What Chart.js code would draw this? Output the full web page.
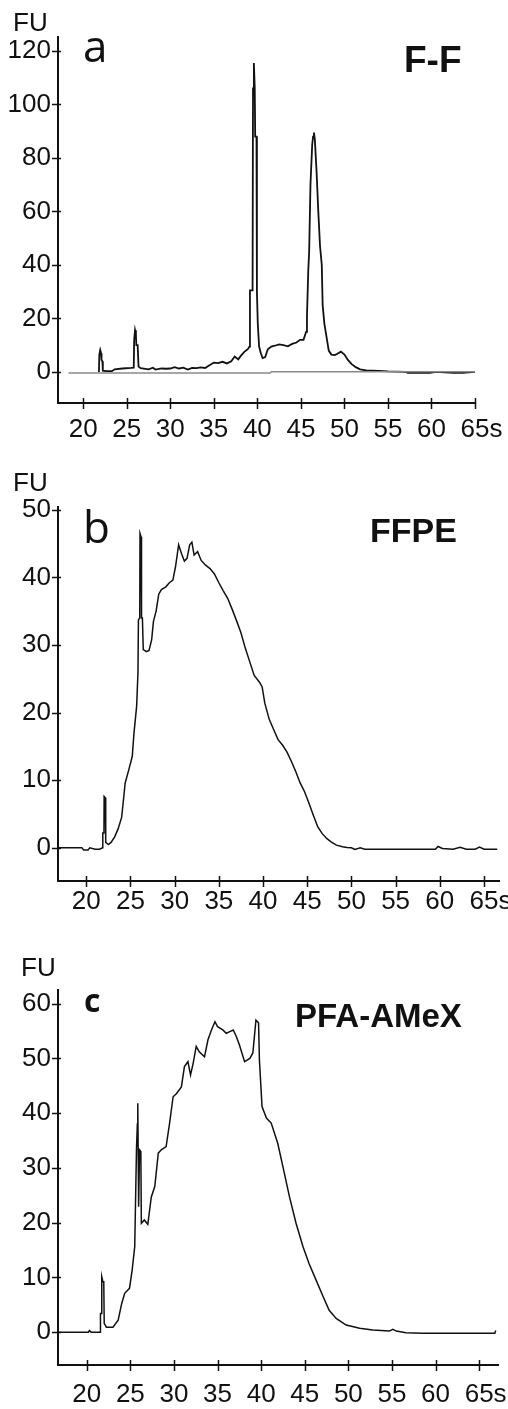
<!DOCTYPE html>
<html>
<head>
<meta charset="utf-8">
<script src="https://cdn.jsdelivr.net/npm/chart.js@4.4.1/dist/chart.umd.min.js"></script>
<style>
    body { margin: 0; background: #fff; }
    #page { position: relative; width: 508px; height: 1409px; overflow: hidden; background: #fff; }
    canvas { position: absolute; left: 0; }
    .label { position: absolute; line-height: 1; color: #111; white-space: nowrap; }
    .fu { font: 26px "Liberation Sans", Arial, sans-serif; }
    .letter { font-family: "Open Sans", sans-serif; font-size: 44px; }
    .title { font-family: "Liberation Sans", Arial, sans-serif; font-weight: bold; }
</style>
</head>
<body>
<div id="page">
    <canvas id="chartA" width="508" height="453" style="top:0px"></canvas>
    <canvas id="chartB" width="508" height="471" style="top:460px"></canvas>
    <canvas id="chartC" width="508" height="459" style="top:950px"></canvas>

    <div class="label fu" style="left:13px;top:7px">FU</div>
    <div class="label letter" style="left:83px;top:23px">a</div>
    <div class="label title" style="left:404px;top:41px;font-size:37px">F-F</div>

    <div class="label fu" style="left:13px;top:467px">FU</div>
    <div class="label letter" style="left:83px;top:504px">b</div>
    <div class="label title" style="left:370px;top:513px;font-size:34px">FFPE</div>

    <div class="label fu" style="left:21px;top:952px">FU</div>
    <div class="label letter" style="left:84px;top:984px;font-size:32px;font-weight:bold">c</div>
    <div class="label title" style="left:295px;top:999px;font-size:33px">PFA-AMeX</div>
</div>
<script>
(() => {
    // migration time (s) tick labels, shared by all three panels
    const xTicks = [20, 25, 30, 35, 40, 45, 50, 55, 60, 65];
    const aTicksY = [0, 20, 40, 60, 80, 100, 120];
    const bTicksY = [0, 10, 20, 30, 40, 50];
    const cTicksY = [0, 10, 20, 30, 40, 50, 60];

    // a: F-F
    const aTime = [21.8, 21.85, 21.95, 22.05, 22.1, 22.2, 22.25, 22.6, 23.3, 23.6, 24.5, 25.5, 25.8, 25.85, 25.95, 26.05, 26.1, 26.25, 26.35, 26.6,
        27.5, 28.0, 28.3, 29.0, 29.5, 30.0, 30.5, 31.0, 31.5, 32.0, 32.5, 33.0, 33.5, 34.0, 34.5, 35.0, 35.5, 36.0, 36.5, 37.0,
        37.4, 37.8, 38.1, 38.5, 38.9, 39.1, 39.15, 39.45, 39.5, 39.6, 39.7, 39.75, 39.9, 39.95, 40.05, 40.2, 40.4, 40.6, 40.9, 41.2,
        41.6, 42.0, 42.5, 43.0, 43.5, 44.0, 44.5, 44.9, 45.3, 45.6, 45.7, 45.85, 45.95, 46.1, 46.3, 46.4, 46.5, 46.6, 46.8, 47.0,
        47.2, 47.4, 47.5, 47.7, 48.0, 48.2, 48.5, 48.9, 49.2, 49.6, 50.0, 50.4, 50.8, 51.3, 51.8, 52.5, 54.0, 55.0, 57.0, 57.3,
        59.8, 60.5, 62.5, 63.6, 65.0];
    const aFU = [0, 6.5, 8.2, 7, 4.5, 4, 0.5, 0.3, 0.3, 1.0, 1.3, 1.5, 1.6, 12, 15.6, 14, 10, 10, 2, 1.4,
        1.0, 1.6, 0.9, 1.3, 1.2, 1.3, 1.8, 1.3, 1.6, 0.9, 1.5, 1.4, 1.7, 1.5, 2.5, 3.5, 3.3, 3.8, 3.2, 4.0,
        5.8, 4.7, 6.0, 7.5, 8.5, 9.5, 30.5, 30.5, 106, 115.5, 106, 88, 88, 30, 18, 9.5, 7, 5.2, 5.6, 8.5,
        9.5, 9.8, 10.3, 10.0, 9.6, 10.5, 11.0, 12.0, 12.0, 15, 21, 38, 45, 70, 85, 88, 89.5, 87, 75, 60,
        47, 40, 25, 18, 12, 8, 6.5, 6.3, 6.8, 7.6, 6.5, 4.5, 3.0, 1.8, 1.0, 0.6, 0.4, 0.2, 0, -0.3,
        -0.3, 0, -0.3, -0.3, 0];
    // a: software baseline (grey)
    const aBaseTime = [18.3, 41.5, 41.6, 65.0];
    const aBaseFU = [-0.4, -0.4, 0.1, 0.1];

    // b: FFPE
    const bTime = [16.8, 19.5, 19.7, 20.2, 20.4, 21.0, 21.5, 21.85, 21.87, 22.0, 22.02, 22.15, 22.2, 22.5, 22.8, 23.2, 23.6, 24.0, 24.2, 24.4,
        24.8, 25.2, 25.4, 25.7, 25.85, 25.9, 26.05, 26.08, 26.2, 26.25, 26.35, 26.45, 26.8, 27.1, 27.4, 27.6, 27.9, 28.2, 28.5, 29.0,
        29.4, 29.8, 30.1, 30.45, 30.8, 31.1, 31.4, 31.7, 31.95, 32.2, 32.6, 33.0, 33.5, 34.0, 34.5, 35.0, 35.5, 36.0, 36.5, 37.0,
        37.5, 38.0, 38.5, 39.0, 39.6, 39.9, 40.2, 40.7, 41.2, 41.7, 42.2, 42.7, 43.2, 43.7, 44.2, 44.7, 45.2, 45.7, 46.2, 46.7,
        47.2, 47.7, 48.3, 49.0, 49.5, 50.0, 50.4, 51.0, 51.5, 55.0, 59.5, 59.8, 60.3, 61.5, 62.3, 63.0, 64.0, 64.5, 65.0, 66.5];
    const bFU = [0, 0, -0.3, -0.3, 0, -0.2, -0.2, 0, 2.2, 2.2, 7.6, 7.4, 0.8, 0.5, 0.8, 1.6, 2.8, 4.5, 7, 9.6,
        11.5, 13.5, 17, 21, 26, 33.7, 34, 46.5, 46, 34, 34, 29.3, 29, 29.2, 30.8, 33.5, 35, 37.5, 38.2, 38.6,
        39.2, 39.6, 41.6, 44.8, 43.4, 42.4, 42.8, 44.8, 45.2, 43.3, 43.8, 42.5, 41.8, 41.3, 40.5, 39.2, 38, 36.9, 35.3, 33.6,
        31.8, 29.5, 27.5, 25.5, 24.5, 23.8, 21.4, 19, 17.5, 16, 15.2, 14.2, 12.8, 11.3, 9.6, 8.3, 6.6, 4.8, 3.1, 2.1,
        1.4, 0.9, 0.4, 0.15, 0.05, 0, -0.25, 0, -0.2, -0.2, -0.2, 0.2, -0.1, -0.2, 0.1, -0.2, -0.2, 0.1, -0.2, -0.2];

    // c: PFA-AMeX
    const cTime = [16.7, 20.2, 20.3, 20.5, 21.55, 21.57, 21.7, 21.72, 21.85, 21.95, 22.0, 22.25, 23.0, 23.6, 24.0, 24.35, 24.9, 25.2, 25.5, 25.7,
        25.8, 25.85, 25.95, 26.05, 26.2, 26.26, 26.6, 27.0, 27.4, 27.8, 28.2, 28.55, 29.1, 29.5, 29.9, 30.3, 30.85, 31.2, 31.6, 31.9,
        32.2, 32.55, 32.9, 33.5, 33.9, 34.3, 34.7, 35.0, 35.6, 36.0, 36.4, 36.8, 37.15, 37.5, 38.1, 38.7, 39.05, 39.4, 39.7, 39.8,
        40.1, 40.6, 41.15, 41.9, 42.5, 43.25, 44.0, 44.8, 45.5, 46.3, 47.1, 47.8, 48.6, 49.75, 51.3, 52.8, 54.7, 55.1, 55.5, 56.6,
        58.5, 66.8, 66.9];
    const cFU = [0, 0, 0.3, 0, 0, 3.4, 3.4, 10.1, 9.2, 9.2, 1.6, 0.9, 0.9, 2.2, 5.2, 7.1, 8, 11.3, 15.6, 33.3,
        38, 41.8, 22.9, 33.3, 33, 19.9, 20.5, 19.7, 24.7, 26.6, 32.7, 33.3, 33.9, 38.2, 43, 43.6, 44.8, 48.5, 49.4, 47,
        49.1, 52.2, 51.2, 50.3, 53.4, 55.2, 56.7, 55.8, 55.2, 54.6, 54.9, 55.2, 54, 52.5, 49.4, 50, 51, 57, 56.5, 49.7,
        41.2, 39.1, 38.2, 34.5, 30.2, 24.7, 19.9, 15.6, 12.5, 9.5, 6.5, 4.0, 2.5, 1.3, 0.7, 0.4, 0.2, 0.5, 0.2, -0.1,
        -0.2, -0.2, 0.3];

    const tickFont = { family: "'Liberation Sans', Arial, sans-serif", size: 26 };
    const ink = "#111";

    const toPoints = (xs, ys) => xs.map((x, i) => ({ x, y: ys[i] }));

    // ticks that cross the axis lines, plus the "s" unit after the last time label
    const axisMarks = {
        id: "axisMarks",
        afterDraw(chart, args, opts) {
            const { ctx } = chart;
            const xs = chart.scales.x;
            const ys = chart.scales.y;
            ctx.save();
            ctx.strokeStyle = ink;
            ctx.lineWidth = 1.5;
            ctx.beginPath();
            xs.ticks.forEach(t => {
                const px = Math.round(xs.getPixelForValue(t.value)) + 0.5;
                ctx.moveTo(px, xs.top - opts.up);
                ctx.lineTo(px, xs.top + opts.down);
            });
            ys.ticks.forEach(t => {
                const py = Math.round(ys.getPixelForValue(t.value)) + 0.5;
                ctx.moveTo(ys.right - 6, py);
                ctx.lineTo(ys.right + 3, py);
            });
            ctx.stroke();

            ctx.font = `${tickFont.size}px ${tickFont.family}`;
            ctx.fillStyle = ink;
            ctx.textBaseline = "middle";
            ctx.textAlign = "left";
            const last = xs.ticks[xs.ticks.length - 1].value;
            const sx = xs.getPixelForValue(last) + ctx.measureText(String(last)).width / 2;
            ctx.fillText("s", sx, xs.top + opts.labelPad + tickFont.size * 1.2 / 2);
            ctx.restore();
        }
    };

    const renderPanel = (canvas, panel) => {
        const datasets = panel.series.map(s => ({
            data: toPoints(s.time, s.values),
            borderColor: s.color,
            borderWidth: s.width,
            pointRadius: 0,
            tension: 0,
            fill: false
        }));

        new Chart(canvas, {
            type: "line",
            data: { datasets },
            options: {
                responsive: false,
                animation: false,
                events: [],
                layout: {
                    padding: { top: panel.padTop, right: panel.padRight, left: 0, bottom: 0 }
                },
                scales: {
                    x: {
                        type: "linear",
                        min: panel.xMin,
                        max: panel.xMax,
                        grid: { display: false, drawTicks: false },
                        border: { color: ink, width: 2 },
                        ticks: {
                            font: tickFont,
                            color: ink,
                            padding: panel.labelPad,
                            autoSkip: false,
                            maxRotation: 0,
                            minRotation: 0
                        },
                        afterBuildTicks: (scale) => {
                            scale.ticks = xTicks.map(v => ({ value: v }));
                        },
                        afterFit: (scale) => {
                            scale.height = panel.xHeight;
                        }
                    },
                    y: {
                        min: panel.yMin,
                        max: panel.yMax,
                        grid: { display: false, drawTicks: false },
                        border: { color: ink, width: 2 },
                        ticks: {
                            font: tickFont,
                            color: ink,
                            padding: 7,
                            autoSkip: false
                        },
                        afterBuildTicks: (scale) => {
                            scale.ticks = panel.yTicks.map(v => ({ value: v }));
                        },
                        afterFit: (scale) => {
                            scale.width = 58;
                        }
                    }
                },
                plugins: {
                    legend: { display: false },
                    tooltip: { enabled: false },
                    axisMarks: { up: 5, down: 6, labelPad: panel.labelPad }
                }
            },
            plugins: [axisMarks]
        });
    };

    renderPanel(document.getElementById("chartA"), {
        xMin: 17.1, xMax: 65, yMin: -11.6, yMax: 125.2, yTicks: aTicksY,
        padTop: 37, padRight: 33, xHeight: 50, labelPad: 11,
        series: [
            { time: aBaseTime, values: aBaseFU, color: "#8a8a8a", width: 1.5 },
            { time: aTime, values: aFU, color: ink, width: 1.8 }
        ]
    });

    renderPanel(document.getElementById("chartB"), {
        xMin: 16.8, xMax: 66.7, yMin: -4.9, yMax: 50.4, yTicks: bTicksY,
        padTop: 47, padRight: 9, xHeight: 50, labelPad: 5,
        series: [
            { time: bTime, values: bFU, color: ink, width: 1.5 }
        ]
    });

    renderPanel(document.getElementById("chartC"), {
        xMin: 16.7, xMax: 67.2, yMin: -6.0, yMax: 62.5, yTicks: cTicksY,
        padTop: 40, padRight: 9, xHeight: 44, labelPad: 14,
        series: [
            { time: cTime, values: cFU, color: ink, width: 1.5 }
        ]
    });
})();
</script>
</body>
</html>
